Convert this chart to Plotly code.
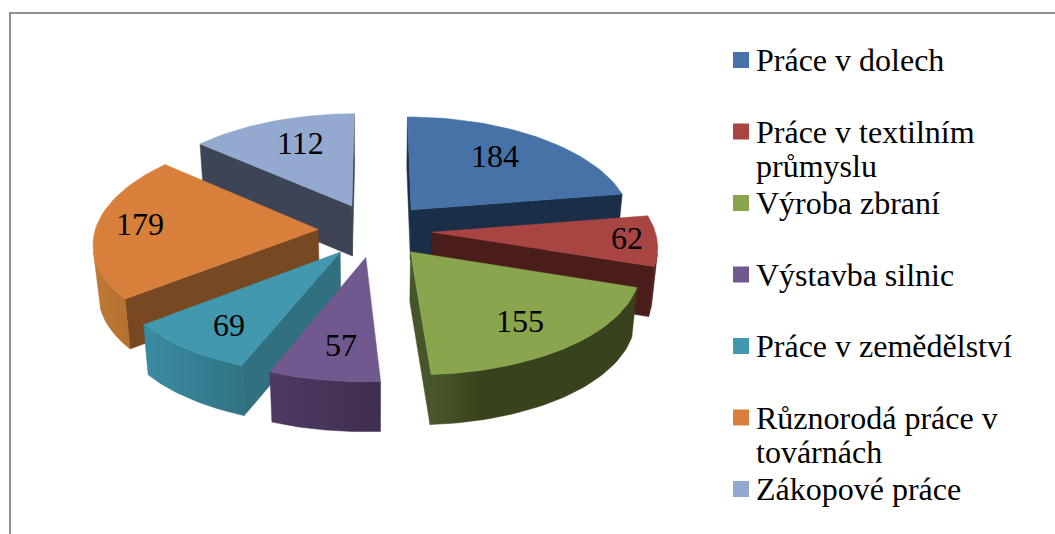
import numpy as np
import plotly.graph_objects as go

# Data
categories = ["Práce v dolech", "Práce v textilním<br>průmyslu", "Výroba zbraní", "Výstavba silnic",
              "Práce v zemědělství", "Různorodá práce v<br>továrnách", "Zákopové práce"]
values = [184, 62, 155, 57, 69, 179, 112]

# Colours: top face, cut face, outer wall gradient (left to right)
top_colors = ["#4672A8", "#A84542", "#89A54E", "#71588F", "#4198AF", "#D8803B", "#93A9CF"]
cut_colors = ["#1A2F47", "#4A1C1A", "#46552A", "#4E3A62", "#31707F", "#774821", "#3C4456"]
wall_colors = [
    [[0, "#1A2F47"], [1, "#1A2F47"]],
    [[0, "#4A1C1A"], [1, "#4A1C1A"]],
    [[0, "#4A5A2B"], [0.25, "#38421C"], [1, "#38421C"]],
    [[0, "#4E3A62"], [1, "#402E50"]],
    [[0, "#3A8CA2"], [1, "#317284"]],
    [[0, "#C07A37"], [1, "#B56F30"]],
    [[0, "#3C4456"], [1, "#3C4456"]],
]

# Pie geometry in page pixels
CX, CY = 375, 230
FX, FY = 223, 106
PERSP_X, PERSP_Y = 0.115, 0.10
DEPTH = 50
EXPLODE = 0.255
FONT = "Liberation Serif"

# where each label sits inside its slice: fraction of radius, degrees off the middle
label_r = [0.70, 0.87, 0.73, 0.73, 0.76, 0.805, 0.71]
label_turn = [-3.5, -1, 1, -1.5, -1.5, 2, 3]
draw_order = [6, 0, 1, 5, 4, 3, 2]


def project(u, v, z=0.0):
    sx = 1 / (1 - PERSP_X * v)
    sy = 1 / (1 - PERSP_Y * v)
    return CX + FX * u * sx * (1 - 0.02 * z), CY + FY * v * sy + DEPTH * z


def area(pts):
    n = len(pts)
    return 0.5 * sum(pts[i][0] * pts[(i + 1) % n][1] - pts[(i + 1) % n][0] * pts[i][1] for i in range(n))


def poly(fig, pts, color, gradient=None):
    xs = [p[0] for p in pts] + [pts[0][0]]
    ys = [p[1] for p in pts] + [pts[0][1]]
    tr = go.Scatter(x=xs, y=ys, mode="lines", fill="toself", fillcolor=color,
                    line=dict(color=color, width=0.5), hoverinfo="skip", showlegend=False)
    if gradient:
        tr.fillgradient = dict(type="horizontal", colorscale=gradient)
        tr.line.color = gradient[-1][1]
    fig.add_trace(tr)


fig = go.Figure()

total = sum(values)
angles = np.cumsum([0] + values) / total * 2 * np.pi

for i in draw_order:
    a0, a1 = angles[i], angles[i + 1]
    mid = (a0 + a1) / 2
    ou, ov = EXPLODE * np.sin(mid), -EXPLODE * np.cos(mid)
    theta = np.linspace(a0, a1, 40)
    arc_u = ou + np.sin(theta)
    arc_v = ov - np.cos(theta)

    # cut faces, only the ones turned to the viewer
    for k, sign in ((0, 1), (-1, -1)):
        pts = [project(ou, ov), project(arc_u[k], arc_v[k]), project(arc_u[k], arc_v[k], 1), project(ou, ov, 1)]
        if sign * area(pts) < 0:
            poly(fig, pts, cut_colors[i])

    # outer wall
    front = []
    for k in range(len(theta) - 1):
        q = [project(arc_u[k], arc_v[k]), project(arc_u[k + 1], arc_v[k + 1]),
             project(arc_u[k + 1], arc_v[k + 1], 1), project(arc_u[k], arc_v[k], 1)]
        if area(q) < 0:
            front.extend([k, k + 1])
    if front:
        ks = sorted(set(front))
        upper = [project(arc_u[k], arc_v[k]) for k in ks]
        lower = [project(arc_u[k], arc_v[k], 1) for k in ks[::-1]]
        poly(fig, upper + lower, wall_colors[i][-1][1], gradient=wall_colors[i])

    # top face
    poly(fig, [project(ou, ov)] + [project(u, v) for u, v in zip(arc_u, arc_v)], top_colors[i])

    lab = mid + np.radians(label_turn[i])
    lx, ly = project(ou + label_r[i] * np.sin(lab), ov - label_r[i] * np.cos(lab))
    fig.add_annotation(x=lx, y=ly, text=str(values[i]), showarrow=False,
                       font=dict(family=FONT, size=32, color="black"))

# Legend drawn by hand, the rows are evenly spaced and long names wrap
LEG_X, LEG_Y0, LEG_STEP, LINE_H = 741, 60, 71.5, 34
row_y = [LEG_Y0 + i * LEG_STEP for i in range(len(categories))]
fig.add_trace(go.Scatter(x=[LEG_X] * len(categories), y=row_y, mode="markers", hoverinfo="skip", showlegend=False,
                         marker=dict(symbol="square", size=16, color=top_colors)))
for name, y in zip(categories, row_y):
    for j, line in enumerate(name.split("<br>")):
        fig.add_annotation(x=LEG_X + 13, y=y + j * LINE_H, text=line, showarrow=False, xanchor="left",
                           font=dict(family=FONT, size=32, color="black"))

# Chart frame, cut off on the right and at the bottom
fig.add_shape(type="path", path="M 10 534 L 10 13 L 1055 13", line=dict(color="#8F8F8F", width=2))

fig.update_layout(
    width=1055, height=534,
    margin=dict(l=0, r=0, t=0, b=0),
    paper_bgcolor="white", plot_bgcolor="white",
    showlegend=False,
    xaxis=dict(range=[0, 1055], visible=False),
    yaxis=dict(range=[534, 0], visible=False),
)

fig.write_html("out.html", config={"displayModeBar": False}, post_script="document.body.style.margin='0';")
